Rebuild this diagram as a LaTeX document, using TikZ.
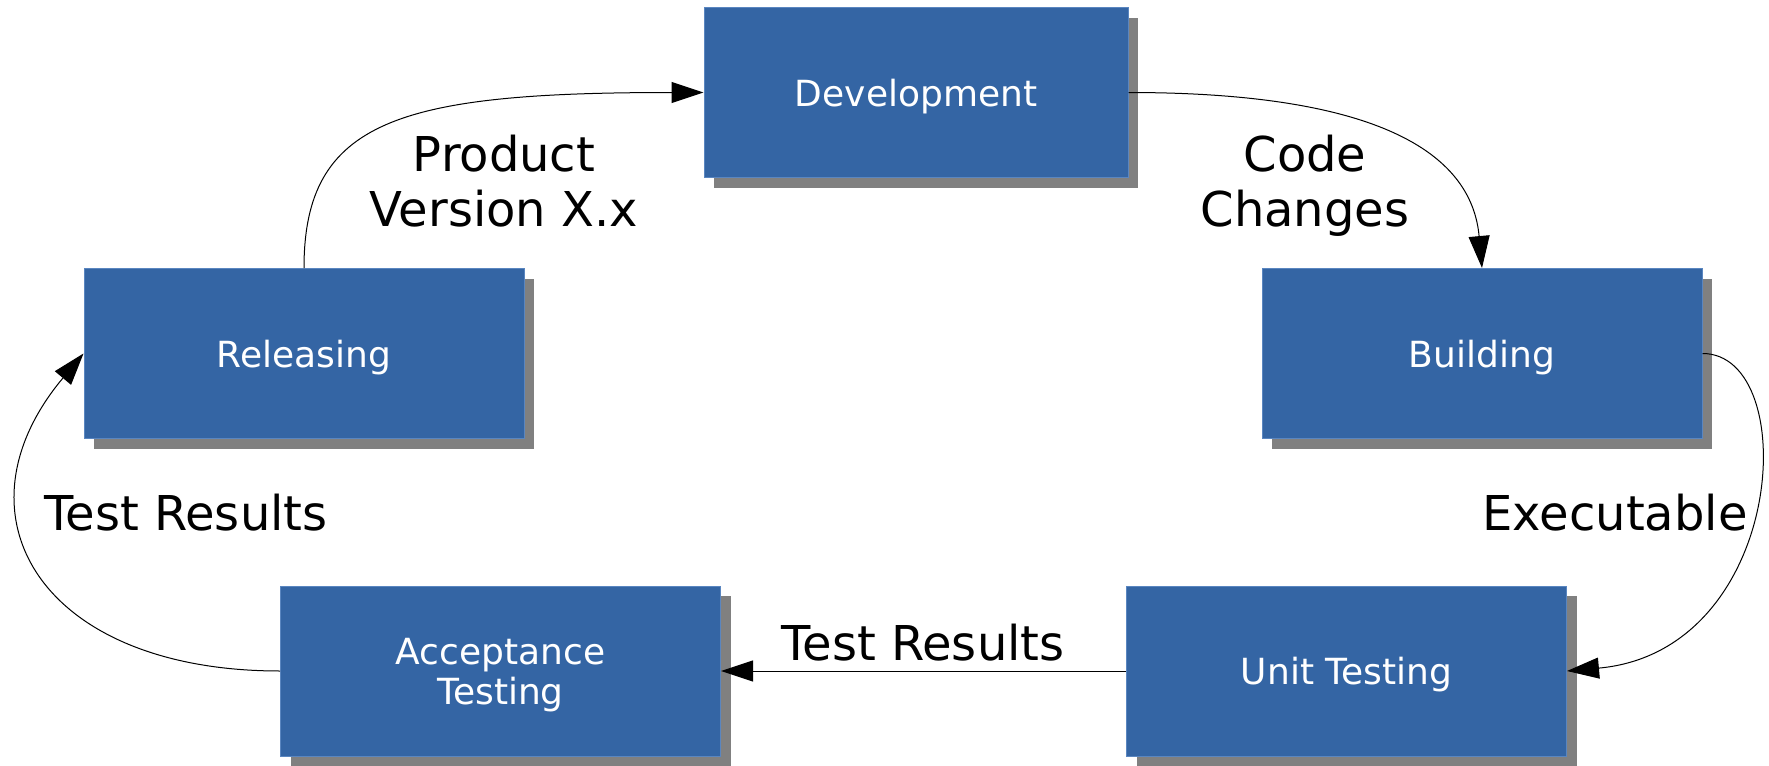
\documentclass[tikz,border=0pt]{standalone}
\usepackage{fontspec}
\setmainfont{DejaVu Sans}
\usetikzlibrary{arrows.meta,shadows}
\definecolor{boxblue}{HTML}{3465A4}
\definecolor{boxedge}{HTML}{5A86C0}
\definecolor{shadowgray}{HTML}{808080}
\tikzset{
  stage/.style={rectangle, fill=boxblue, draw=boxedge, line width=0.5pt,
    text=white, font=\fontsize{18pt}{20pt}\selectfont, align=center,
    minimum width=220pt, minimum height=85pt, inner sep=0pt, text depth=0pt,
    drop shadow={shadow xshift=5pt, shadow yshift=-5pt, fill=shadowgray, opacity=1}},
  lbl/.style={font=\fontsize{24pt}{27.5pt}\selectfont, align=center, inner sep=0pt, text=black},
  flow/.style={-{Triangle[length=16pt,width=10.5pt]}, line width=0.5pt, black}
}
\begin{document}
\begin{tikzpicture}[x=0.5pt,y=0.5pt]
\useasboundingbox (0,0) rectangle (1769,-766);
\node[stage, minimum width=212pt] (dev) at (916,-92.5) {Development};
\node[stage] (rel) at (304,-353.5) {Releasing};
\node[stage] (bld) at (1482,-353.5) {Building};
\node[stage] (acc) at (500.5,-671) {Acceptance\\Testing};
\node[stage] (unit) at (1346.5,-671) {Unit Testing};

\draw[flow] (dev.east) .. controls +(260,0) and +(-10,110) .. (bld.north);
\draw[flow] (bld.east) .. controls +(100,0) and +(220,20) .. (unit.east);
\draw[flow] (unit.west) -- (acc.east);
\draw[flow] (acc.west) .. controls +(-240,0) and +(-135,-161) .. (rel.west);
\draw[flow] (rel.north) .. controls +(0,148) and +(-304,0) .. (dev.west);

\node[lbl] (l1) at (504,-181) {Product\\Version X.x};
\node[lbl] (l2) at (1305,-186) {Code\\Changes};
\node[lbl] (l3) at (1615,-513) {Executable};
\node[lbl] (l4) at (923,-643) {Test Results};
\node[lbl] (l5) at (186,-513) {Test Results};
\end{tikzpicture}
\end{document}
